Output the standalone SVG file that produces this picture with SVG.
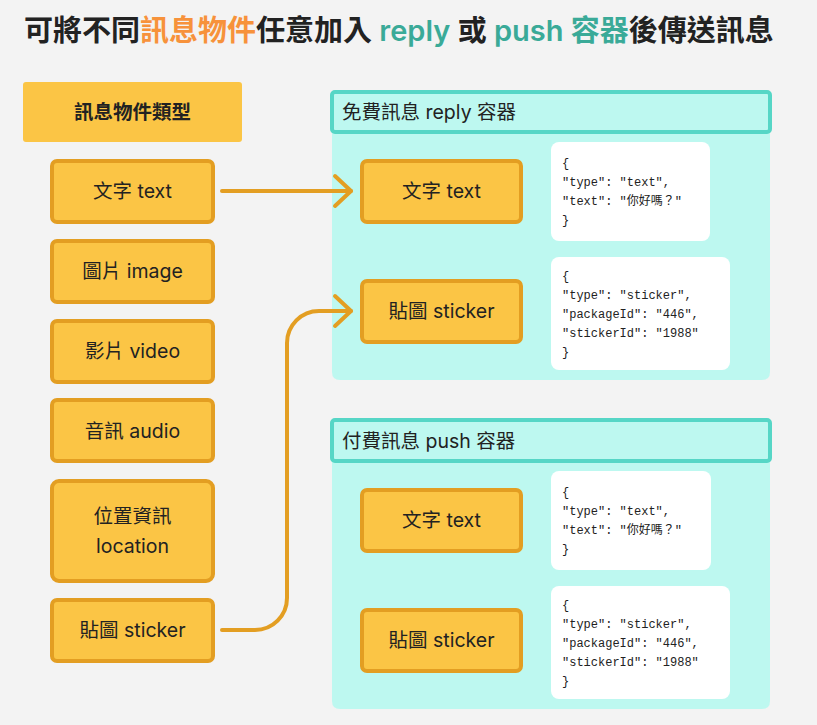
<svg xmlns="http://www.w3.org/2000/svg" width="817" height="725" viewBox="0 0 817 725">
<defs>
<style>
.t{font-family:Inter,"Noto Sans CJK TC",sans-serif;fill:#222}
.title{font-size:29px;font-weight:600}
.node rect{fill:#fbc545;stroke:#e39e22;stroke-width:4}
.nt{font-family:Inter,"Noto Sans CJK TC",sans-serif;font-size:19.5px;fill:#222;text-anchor:middle}
.hd{fill:#bdf8f0;stroke:#56d6c6;stroke-width:4}
.body{fill:#bdf8f0}
.code rect{fill:#fff}
.code text{font-family:"Liberation Mono","DejaVu Sans Mono","Noto Sans CJK TC",monospace;font-size:12px;fill:#222}
.conn{fill:none;stroke:#e39e22;stroke-width:4;stroke-linecap:round;stroke-linejoin:round}
</style>
</defs>
<rect width="817" height="725" fill="#f3f3f3"/>
<text class="t title" x="24" y="41">可將不同<tspan fill="#f7923b">訊息物件</tspan>任意加入 <tspan fill="#3aaa98">reply</tspan> 或 <tspan fill="#3aaa98">push 容器</tspan>後傳送訊息</text>

<g id="header-types">
<rect x="23" y="82" width="219" height="60" rx="3" fill="#fbc545"/>
<text class="nt" x="132.5" y="119" font-weight="700">訊息物件類型</text>
</g>
<g id="l-text" class="node"><rect x="52" y="161" width="161" height="61" rx="5"/><text class="nt" x="132.5" y="198">文字 text</text></g>
<g id="l-image" class="node"><rect x="52" y="241" width="161" height="61" rx="5"/><text class="nt" x="132.5" y="278">圖片 image</text></g>
<g id="l-video" class="node"><rect x="52" y="321" width="161" height="61" rx="5"/><text class="nt" x="132.5" y="358">影片 video</text></g>
<g id="l-audio" class="node"><rect x="52" y="400" width="161" height="61" rx="5"/><text class="nt" x="132.5" y="438">音訊 audio</text></g>
<g id="l-location" class="node"><rect x="52" y="481" width="161" height="100" rx="7"/><text class="nt" x="132.5" y="523">位置資訊</text><text class="nt" x="132.5" y="553">location</text></g>
<g id="l-sticker" class="node"><rect x="52" y="600" width="161" height="61" rx="5"/><text class="nt" x="132.5" y="637">貼圖 sticker</text></g>

<g id="reply-container">
<path class="body" d="M332 133 H770 V372 Q770 380 762 380 H340 Q332 380 332 372 Z"/>
<rect class="hd" x="332" y="92" width="438" height="40" rx="3"/>
<text class="t" x="342" y="119" font-size="19.5">免費訊息 reply 容器</text>
</g>
<g id="r-text" class="node"><rect x="362" y="161" width="159" height="61" rx="5"/><text class="nt" x="441.5" y="198">文字 text</text></g>
<g id="r-sticker" class="node"><rect x="362" y="281" width="159" height="61" rx="5"/><text class="nt" x="441.5" y="318">貼圖 sticker</text></g>
<g id="r-code1" class="code"><rect x="551" y="142" width="159" height="99" rx="8"/>
<text x="562" y="167">{</text><text x="562" y="186">"type": "text",</text><text x="562" y="205">"text": "你好嗎？"</text><text x="562" y="224">}</text></g>
<g id="r-code2" class="code"><rect x="551" y="257" width="179" height="113" rx="8"/>
<text x="562" y="280">{</text><text x="562" y="299">"type": "sticker",</text><text x="562" y="318">"packageId": "446",</text><text x="562" y="337">"stickerId": "1988"</text><text x="562" y="356">}</text></g>

<g id="push-container">
<path class="body" d="M332 462 H770 V701 Q770 709 762 709 H340 Q332 709 332 701 Z"/>
<rect class="hd" x="332" y="420" width="438" height="41" rx="3"/>
<text class="t" x="342" y="448" font-size="19.5">付費訊息 push 容器</text>
</g>
<g id="p-text" class="node"><rect x="362" y="490" width="159" height="61" rx="5"/><text class="nt" x="441.5" y="527">文字 text</text></g>
<g id="p-sticker" class="node"><rect x="362" y="610" width="159" height="61" rx="5"/><text class="nt" x="441.5" y="647">貼圖 sticker</text></g>
<g id="p-code1" class="code"><rect x="551" y="471" width="160" height="99" rx="8"/>
<text x="562" y="496">{</text><text x="562" y="515">"type": "text",</text><text x="562" y="534">"text": "你好嗎？"</text><text x="562" y="553">}</text></g>
<g id="p-code2" class="code"><rect x="551" y="586" width="179" height="113" rx="8"/>
<text x="562" y="609">{</text><text x="562" y="628">"type": "sticker",</text><text x="562" y="647">"packageId": "446",</text><text x="562" y="666">"stickerId": "1988"</text><text x="562" y="685">}</text></g>

<g id="connectors">
<path class="conn" d="M222 191 H351"/>
<path class="conn" d="M335 176 L351 191 L335 206"/>
<path class="conn" d="M222 630 H255 A32 32 0 0 0 287 598 V343 A32 32 0 0 1 319 311 H351"/>
<path class="conn" d="M335 296 L351 311 L335 326"/>
</g>
</svg>
